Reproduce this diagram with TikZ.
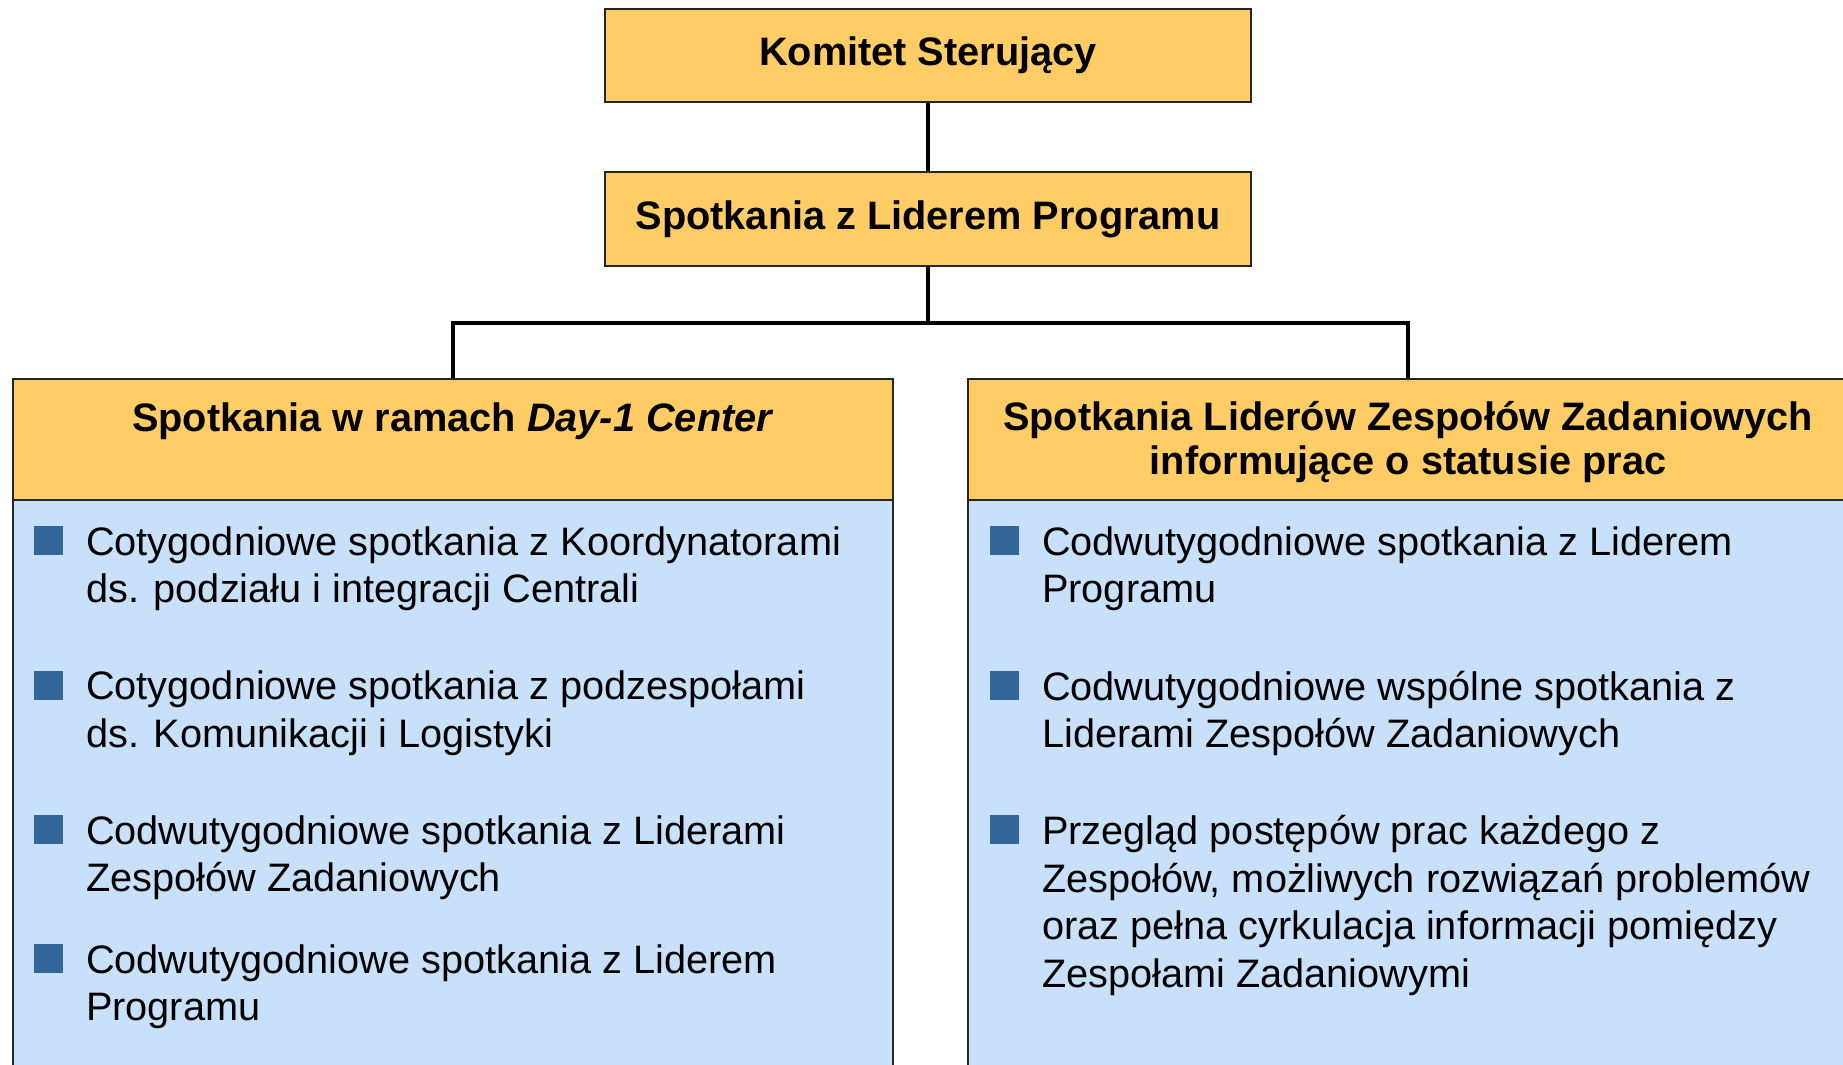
\documentclass[tikz,border=0pt]{standalone}
\usepackage{fontspec}
\setmainfont{Liberation Sans}
\usetikzlibrary{positioning}

\definecolor{zolty}{RGB}{255,204,102}
\definecolor{blekit}{RGB}{200,224,250}
\definecolor{punktowy}{RGB}{51,102,153}

\tikzset{
  pudlo/.style={draw=black!85, line width=0.45pt, fill=zolty, inner sep=0pt},
  tresc/.style={draw=black!85, line width=0.45pt, fill=blekit, inner sep=0pt},
  tytul/.style={font=\fontsize{11.3}{12.4}\selectfont\bfseries, align=center, inner sep=0pt,
    anchor=north, yshift=10pt, execute at begin node=\rule{0pt}{10pt}},
  punkt/.style={fill=punktowy, minimum size=2.9mm, inner sep=0pt, anchor=south west},
  opis/.style={font=\fontsize{11.3}{13.5}\selectfont, align=left, inner sep=0pt,
    anchor=north west, yshift=8.6pt, execute at begin node=\rule{0pt}{10pt}},
  lacznik/.style={line width=1.4pt}
}

\begin{document}
\begin{tikzpicture}[x=0.1mm,y=-0.1mm]
\useasboundingbox (0,0) rectangle (1843,1064);
\clip (0,0) rectangle (1843,1064);

\node[pudlo, minimum width=64.6mm, minimum height=9.3mm, font=\fontsize{11.3}{12.4}\selectfont\bfseries] (komitet) at (928,55.5) {Komitet Sterujący};
\node[pudlo, minimum width=64.6mm, minimum height=9.4mm, font=\fontsize{11.3}{12.4}\selectfont\bfseries] (lider) at (928,219) {Spotkania z Liderem Programu};

\node[tresc, minimum width=88mm, minimum height=62mm] (dayTresc) at (453,810) {};
\node[tresc, minimum width=88mm, minimum height=62mm] (zespTresc) at (1408,810) {};
\node[pudlo, minimum width=88mm, minimum height=12.1mm] (day) at (453,439.5) {};
\node[pudlo, minimum width=88mm, minimum height=12.1mm] (zesp) at (1408,439.5) {};

\node[tytul] (dayTytul) at (453,431) {Spotkania w ramach \textit{Day-1 Center}};
\node[tytul] (zespTytul) at (1408,436) {Spotkania Liderów Zespołów Zadaniowych\\informujące o statusie prac};

\coordinate (rozgal) at (928,323);
\draw[lacznik] (komitet) -- (lider);
\draw[lacznik] (lider.south) -- (rozgal);
\draw[lacznik] (day.north) |- (rozgal) -| (zesp.north);

\node[punkt] (pa1) at (33,556) {};
\node[right=2.2mm of pa1.south east, opis] (a1) {Cotygodniowe spotkania z Koordynatorami\\ds. podziału i integracji Centrali};
\node[punkt] (pa2) at (33,700.5) {};
\node[right=2.2mm of pa2.south east, opis] (a2) {Cotygodniowe spotkania z podzespołami\\ds. Komunikacji i Logistyki};
\node[punkt] (pa3) at (33,845) {};
\node[right=2.2mm of pa3.south east, opis] (a3) {Codwutygodniowe spotkania z Liderami\\Zespołów Zadaniowych};
\node[punkt] (pa4) at (33,974) {};
\node[right=2.2mm of pa4.south east, opis] (a4) {Codwutygodniowe spotkania z Liderem\\Programu};

\node[punkt] (pb1) at (989,556) {};
\node[right=2.2mm of pb1.south east, opis] (b1) {Codwutygodniowe spotkania z Liderem\\Programu};
\node[punkt] (pb2) at (989,700.5) {};
\node[right=2.2mm of pb2.south east, opis] (b2) {Codwutygodniowe wspólne spotkania z\\Liderami Zespołów Zadaniowych};
\node[punkt] (pb3) at (989,845) {};
\node[right=2.2mm of pb3.south east, opis] (b3) {Przegląd postępów prac każdego z\\Zespołów, możliwych rozwiązań problemów\\oraz pełna cyrkulacja informacji pomiędzy\\Zespołami Zadaniowymi};
\end{tikzpicture}
\end{document}
